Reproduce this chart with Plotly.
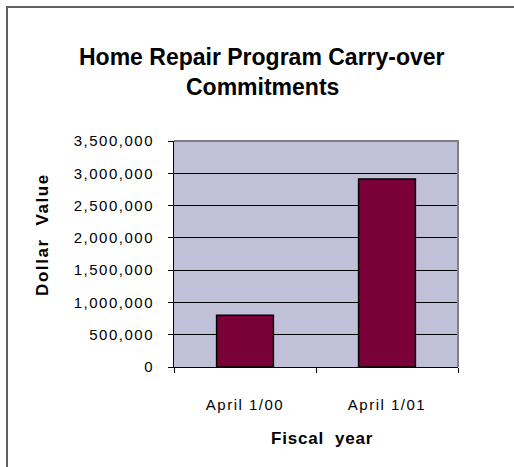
import plotly.graph_objects as go

# Carry-over commitments by fiscal year
fiscal_years = ["April 1/00", "April 1/01"]
dollar_values = [800000, 2910000]
y_ticks = [0, 500000, 1000000, 1500000, 2000000, 2500000, 3000000, 3500000]

W, H = 514, 467
L, R, T, B = 174, 56, 141, 100
PW, PH = W - L - R, H - T - B

FONT = "Liberation Sans, Arial, sans-serif"


def px(x):
    return (x - L) / PW


def py(y):
    return (H - B - y) / PH


def spaced(text, spacing):
    return f"<span style='letter-spacing:{spacing}px'>{text}</span>"


fig = go.Figure(
    go.Bar(
        x=fiscal_years,
        y=dollar_values,
        width=0.4,
        marker=dict(color="#7A0038", line=dict(color="#000000", width=1.5)),
    )
)

fig.update_layout(
    width=W,
    height=H,
    margin=dict(l=L, r=R, t=T, b=B, pad=0),
    paper_bgcolor="#FFFFFF",
    plot_bgcolor="#C0C0D8",
    showlegend=False,
    font=dict(family=FONT, color="#000000"),
    xaxis=dict(
        type="category",
        tickson="boundaries",
        tickvals=fiscal_years,
        ticktext=[spaced(c, 1.5) for c in fiscal_years],
        ticks="outside",
        ticklen=5,
        tickcolor="#000000",
        showline=True,
        linecolor="#000000",
        linewidth=1,
        showgrid=False,
        tickfont=dict(size=15),
        ticklabelstandoff=24,
    ),
    yaxis=dict(
        range=[0, 3500000],
        tickvals=y_ticks,
        ticktext=[spaced(f"{v:,}", 1.5) for v in y_ticks],
        ticks="outside",
        ticklen=5,
        tickcolor="#000000",
        showline=True,
        linecolor="#000000",
        linewidth=1,
        showgrid=True,
        gridcolor="#000000",
        gridwidth=1,
        zeroline=False,
        tickfont=dict(size=15),
        ticklabelstandoff=11,
    ),
    annotations=[
        dict(text="<b>Home Repair Program Carry-over</b>", x=px(262), y=py(57),
             xref="paper", yref="paper", showarrow=False,
             xanchor="center", yanchor="middle", font=dict(size=23)),
        dict(text="<b>Commitments</b>", x=px(262), y=py(87),
             xref="paper", yref="paper", showarrow=False,
             xanchor="center", yanchor="middle", font=dict(size=23)),
        dict(text="<b>" + spaced("Fiscal  year", 0.8) + "</b>", x=px(322), y=py(438),
             xref="paper", yref="paper", showarrow=False,
             xanchor="center", yanchor="middle", font=dict(size=17)),
        dict(text="<b>" + spaced("Dollar  Value", 1.6) + "</b>", x=px(42), y=py(235),
             textangle=-90, xref="paper", yref="paper", showarrow=False,
             xanchor="center", yanchor="middle", font=dict(size=17)),
    ],
    shapes=[
        # grey border along the top and right of the plot area
        dict(type="path", xref="paper", yref="paper",
             path="M 0,1 L 1,1 L 1,0", line=dict(color="#808080", width=2),
             layer="above"),
        # outer chart frame (continues past the right and bottom edges)
        dict(type="rect", xref="paper", yref="paper",
             x0=px(7), y0=py(600), x1=px(700), y1=py(7),
             line=dict(color="#606060", width=2), layer="below"),
    ],
)

fig.write_html("out.html")
